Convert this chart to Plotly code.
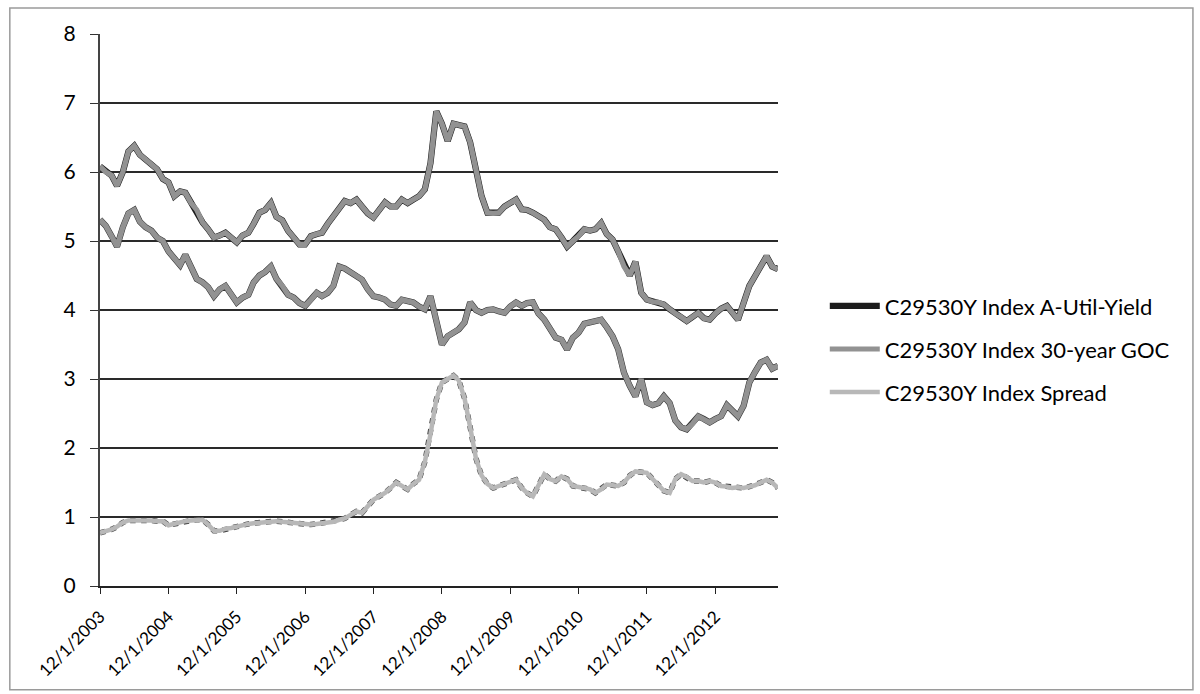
import pandas as pd
import plotly.graph_objects as go

# ---- data (monthly readings, Dec 2003 .. Nov 2013) ----
dates = pd.date_range("2003-12-01", periods=120, freq="MS")

a_util_yield = [
    6.08, 6.00, 5.95, 5.80, 6.00, 6.30, 6.38, 6.25, 6.18, 6.10, 6.04, 5.90,
    5.85, 5.65, 5.72, 5.70, 5.55, 5.45, 5.27, 5.17, 5.05, 5.08, 5.12, 5.05,
    4.98, 5.08, 5.12, 5.25, 5.41, 5.45, 5.55, 5.35, 5.30, 5.15, 5.05, 4.95,
    4.95, 5.07, 5.10, 5.12, 5.25, 5.36, 5.50, 5.58, 5.55, 5.60, 5.50, 5.40,
    5.34, 5.45, 5.56, 5.50, 5.50, 5.60, 5.55, 5.60, 5.65, 5.75, 6.13, 6.88,
    6.70, 6.45, 6.70, 6.68, 6.66, 6.43, 6.04, 5.65, 5.41, 5.40, 5.41, 5.50,
    5.55, 5.60, 5.46, 5.45, 5.41, 5.35, 5.31, 5.20, 5.17, 5.05, 4.92, 5.00,
    5.07, 5.17, 5.15, 5.17, 5.26, 5.10, 5.02, 4.85, 4.63, 4.50, 4.70, 4.25,
    4.15, 4.12, 4.11, 4.08, 4.01, 3.95, 3.90, 3.84, 3.90, 3.96, 3.88, 3.86,
    3.95, 4.02, 4.06, 3.95, 3.86, 4.10, 4.35, 4.49, 4.65, 4.78, 4.63, 4.59,
]

goc_30y = [
    5.31, 5.22, 5.07, 4.92, 5.20, 5.40, 5.45, 5.28, 5.20, 5.15, 5.05, 5.00,
    4.85, 4.75, 4.65, 4.80, 4.63, 4.45, 4.40, 4.33, 4.20, 4.30, 4.35, 4.22,
    4.11, 4.18, 4.22, 4.40, 4.50, 4.55, 4.63, 4.45, 4.35, 4.22, 4.18, 4.10,
    4.06, 4.15, 4.25, 4.20, 4.25, 4.35, 4.63, 4.60, 4.54, 4.50, 4.44, 4.30,
    4.20, 4.18, 4.15, 4.08, 4.06, 4.15, 4.12, 4.11, 4.05, 4.01, 4.20, 3.86,
    3.50, 3.62, 3.68, 3.72, 3.82, 4.11, 4.00, 3.96, 4.00, 4.01, 3.98, 3.96,
    4.05, 4.11, 4.06, 4.10, 4.11, 3.95, 3.86, 3.72, 3.60, 3.57, 3.43, 3.60,
    3.67, 3.80, 3.82, 3.84, 3.86, 3.75, 3.62, 3.43, 3.09, 2.90, 2.75, 3.00,
    2.66, 2.62, 2.65, 2.75, 2.65, 2.40, 2.30, 2.27, 2.35, 2.46, 2.42, 2.37,
    2.42, 2.46, 2.62, 2.55, 2.46, 2.61, 2.95, 3.10, 3.24, 3.28, 3.15, 3.19,
]

spread = [
    0.77, 0.79, 0.82, 0.86, 0.92, 0.95, 0.95, 0.96, 0.96, 0.95, 0.94, 0.94,
    0.88, 0.90, 0.93, 0.94, 0.95, 0.96, 0.96, 0.89, 0.80, 0.80, 0.83, 0.84,
    0.86, 0.89, 0.90, 0.91, 0.92, 0.93, 0.93, 0.94, 0.93, 0.92, 0.92, 0.91,
    0.90, 0.89, 0.90, 0.91, 0.92, 0.93, 0.96, 0.98, 1.03, 1.08, 1.06, 1.15,
    1.25, 1.30, 1.35, 1.42, 1.50, 1.45, 1.40, 1.48, 1.54, 1.80, 2.20, 2.70,
    2.95, 3.00, 3.05, 2.98, 2.72, 2.30, 1.85, 1.60, 1.48, 1.42, 1.45, 1.47,
    1.50, 1.54, 1.42, 1.35, 1.30, 1.45, 1.62, 1.55, 1.52, 1.59, 1.55, 1.45,
    1.44, 1.42, 1.40, 1.35, 1.40, 1.47, 1.46, 1.45, 1.50, 1.60, 1.66, 1.65,
    1.64, 1.55, 1.45, 1.38, 1.35, 1.55, 1.62, 1.58, 1.52, 1.52, 1.50, 1.52,
    1.50, 1.45, 1.44, 1.42, 1.43, 1.42, 1.44, 1.46, 1.50, 1.54, 1.50, 1.42,
]

series_names = [
    "C29530Y Index A-Util-Yield",
    "C29530Y Index 30-year GOC",
    "C29530Y Index Spread",
]
tick_dates = pd.date_range("2003-12-01", periods=10, freq="12MS")
tick_text = [f"{d.month}/{d.day}/{d.year}" for d in tick_dates]
y_ticks = list(range(0, 9))

FONT = "Lato, 'Open Sans', sans-serif"

fig = go.Figure()

# Spread: dark speckled edge + light grey core
fig.add_trace(go.Scatter(x=dates, y=spread, mode="lines", showlegend=False,
                         line=dict(color="#4a4a4a", width=5.5, dash="dot"),
                         hoverinfo="skip"))
fig.add_trace(go.Scatter(x=dates, y=spread, mode="lines", name=series_names[2],
                         legend="legend3",
                         line=dict(color="#b8b8b8", width=4.5)))

# 30-year GOC
fig.add_trace(go.Scatter(x=dates, y=goc_30y, mode="lines", showlegend=False,
                         line=dict(color="#333333", width=6.2),
                         hoverinfo="skip"))
fig.add_trace(go.Scatter(x=dates, y=goc_30y, mode="lines", name=series_names[1],
                         legend="legend2",
                         line=dict(color="#929292", width=5.2)))

# A-Util yield (black line, scanned with grey core)
fig.add_trace(go.Scatter(x=dates, y=a_util_yield, mode="lines", name=series_names[0],
                         legend="legend",
                         line=dict(color="#1c1c1c", width=6.2)))
fig.add_trace(go.Scatter(x=dates, y=a_util_yield, mode="lines", showlegend=False,
                         line=dict(color="#929292", width=5.2),
                         hoverinfo="skip"))

legend_common = dict(
    xanchor="left", yanchor="middle", x=1.069,
    font=dict(family=FONT, size=22, color="#000"),
    bgcolor="rgba(0,0,0,0)", borderwidth=0, itemwidth=50,
)

fig.update_layout(
    width=1200, height=694,
    margin=dict(l=100, r=422, t=34, b=108, autoexpand=False),
    paper_bgcolor="white", plot_bgcolor="white",
    font=dict(family=FONT, color="#000"),
    legend=dict(legend_common, y=0.507),
    legend2=dict(legend_common, y=0.429),
    legend3=dict(legend_common, y=0.351),
    xaxis=dict(
        type="date", automargin=False,
        range=[dates[0], dates[-1]],
        tickmode="array", tickvals=tick_dates, ticktext=tick_text,
        tickangle=-45, ticks="outside", ticklen=6, tickcolor="#222",
        tickfont=dict(family=FONT, size=17, color="#000"),
        ticklabelstandoff=6,
        showgrid=False, zeroline=False,
        showline=True, linecolor="#222", linewidth=2,
    ),
    yaxis=dict(
        range=[0, 8], tickmode="array", tickvals=y_ticks, automargin=False,
        ticks="outside", ticklen=8, tickcolor="#333",
        tickfont=dict(family=FONT, size=21, color="#000"),
        ticklabelstandoff=10,
        showgrid=True, gridcolor="#2a2a2a", gridwidth=1.6,
        zeroline=False, showline=True, linecolor="#444", linewidth=2,
    ),
    shapes=[dict(type="rect", xref="paper", yref="paper",
                 x0=-0.133, x1=1.612, y0=-0.188, y1=1.047,
                 line=dict(color="#9a9a9a", width=1.5), layer="below")],
)

fig.write_html("out.html")
